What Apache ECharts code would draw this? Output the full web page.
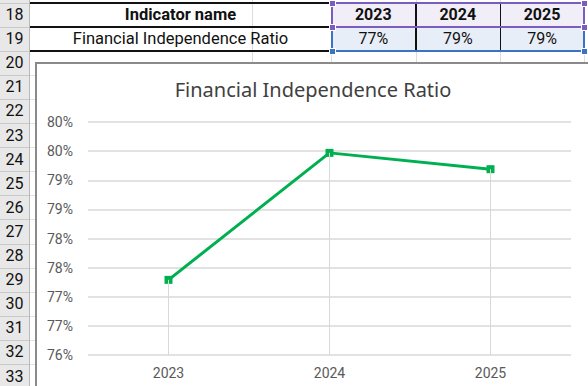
<!DOCTYPE html>
<html>
<head>
<meta charset="utf-8">
<script src="https://cdn.jsdelivr.net/npm/echarts@6/dist/echarts.min.js"></script>
<style>
  html, body { margin:0; padding:0; }
  body { width:588px; height:386px; overflow:hidden; position:relative; background:#fff; font-family: Roboto, "Noto Sans", sans-serif; }
  .abs { position:absolute; box-sizing:border-box; }
  .rowhdr { position:absolute; left:0; width:29px; background:#e8e8e8; }
  .rownum { position:absolute; left:0; width:29px; text-align:center; font-size:16px; color:#111; line-height:24px; }
  .cell { position:absolute; text-align:center; font-size:16px; color:#111; line-height:24px; white-space:nowrap; }
  #chart { position:absolute; left:35px; top:62px; width:556px; height:420px; border:2px solid #8a8a8a; box-sizing:border-box; background:#fff; }
</style>
</head>
<body>
<div id="sheet"></div>
<div id="chart"></div>
<script>
// ---- data ----
const headerLabel = 'Indicator name';
const indicatorName = 'Financial Independence Ratio';
const years = ['2023', '2024', '2025'];
const ratioValues = [77.29, 79.47, 79.19]; // percent
const yMin = 76, yMax = 80, yStep = 0.5;
const firstRow = 18, lastRow = 33;

// ---- spreadsheet ----
const sheet = document.getElementById('sheet');
function el(cls, style, text) {
  const d = document.createElement('div');
  d.className = cls;
  Object.assign(d.style, style);
  if (text !== undefined) d.textContent = text;
  sheet.appendChild(d);
  return d;
}
const rowH = 24.1, row18Top = 3;
const rowTop = k => row18Top + (k - 18) * rowH;
el('rowhdr', {top:'0px', height:'386px'});
el('abs', {left:'29px', top:'0px', width:'1px', height:'386px', background:'#b8b8b8'});
// column gridlines
[252, 331, 415.5, 500, 584].forEach(x => el('abs', {left:x+'px', top:'0px', width:'1px', height:'386px', background:'#dcdcdc'}));
for (let k = firstRow; k <= lastRow; k++) {
  const t = rowTop(k);
  el('abs', {left:'0px', top:(t-0.5)+'px', width:'29px', height:'1px', background:'#c9c9c9'});
  el('abs', {left:'30px', top:(t-0.5)+'px', width:'558px', height:'1px', background:'#e2e2e2'});
  el('rownum', {top:t+'px', height:rowH+'px'}, String(k));
}
// year column geometry
const colX = [331, 415.5, 500, 584];
// backgrounds
el('abs', {left:'331px', top:'3px', width:'253px', height:'24px', background:'#f1eef8'});
el('abs', {left:'331px', top:'27px', width:'253px', height:'24px', background:'#e8eef8'});
// black borders of table
[3, 27, 51].forEach(y => el('abs', {left:'30px', top:(y-1)+'px', width:'301px', height:'2px', background:'#111'}));
[415.5, 500].forEach(x => el('abs', {left:(x-0.5)+'px', top:'3px', width:'1.5px', height:'48px', background:'#111'}));
// text
el('cell', {left:'30px', width:'301px', top:'3px', height:'24px', fontWeight:'bold', fontSize:'16.5px'}, headerLabel);
el('cell', {left:'30px', width:'301px', top:'27px', height:'24px', fontSize:'16.5px'}, indicatorName);
years.forEach((y, i) => {
  el('cell', {left:colX[i]+'px', width:(colX[i+1]-colX[i])+'px', top:'3px', height:'24px', fontWeight:'bold', fontSize:'16px'}, y);
  el('cell', {left:colX[i]+'px', width:(colX[i+1]-colX[i])+'px', top:'27px', height:'24px', fontSize:'16px'}, Math.round(ratioValues[i]) + '%');
});
// selection outlines
el('abs', {left:'331px', top:'2px', width:'254px', height:'26px', border:'2px solid #7b5cc0'});
el('abs', {left:'331px', top:'27px', width:'254px', height:'25px', border:'2px solid #3b72c6', borderTop:'none'});
function handle(x, y, c) { el('abs', {left:(x-3)+'px', top:(y-3)+'px', width:'7px', height:'7px', background:c, border:'1px solid #fff'}); }
handle(332, 3, '#7b5cc0'); handle(584, 3, '#7b5cc0');
handle(332, 27, '#7b5cc0'); handle(584, 27, '#7b5cc0');
handle(332, 51, '#3b72c6'); handle(584, 51, '#3b72c6');

// ---- chart ----
const chart = echarts.init(document.getElementById('chart'), null, {renderer:'svg'});
const dropLines = years.map((y, i) => [
  {coord:[y, ratioValues[i]]},
  {coord:[y, yMin]}
]);
chart.setOption({
  animation:false,
  backgroundColor:'#fff',
  title:{
    text:indicatorName,
    left:'center', top:10,
    textStyle:{fontFamily:'"Noto Sans", Roboto, sans-serif', fontSize:20, fontWeight:'normal', color:'#404040'}
  },
  grid:{left:51, top:58, width:483, height:233, containLabel:false},
  xAxis:{
    type:'category', data:years, boundaryGap:true,
    axisLine:{show:false}, axisTick:{show:false},
    axisLabel:{color:'#595959', fontSize:14, fontFamily:'Roboto', margin:11},
    splitLine:{show:false}
  },
  yAxis:{
    type:'value', min:yMin, max:yMax, interval:yStep,
    axisLine:{show:false}, axisTick:{show:false},
    axisLabel:{color:'#595959', fontSize:14, fontFamily:'Roboto', margin:15,
      formatter: v => Math.round(v) + '%'},
    splitLine:{lineStyle:{color:'#d9d9d9', width:1.5}}
  },
  series:[{
    type:'line', data:ratioValues,
    symbol:'rect', symbolSize:8,
    lineStyle:{color:'#00b050', width:3},
    itemStyle:{color:'#00b050'},
    markLine:{
      silent:true, symbol:['none','none'], animation:false,
      label:{show:false},
      lineStyle:{color:'#d9d9d9', width:1, type:'solid'},
      data:dropLines
    },
    z:3
  }]
});
</script>
</body>
</html>
